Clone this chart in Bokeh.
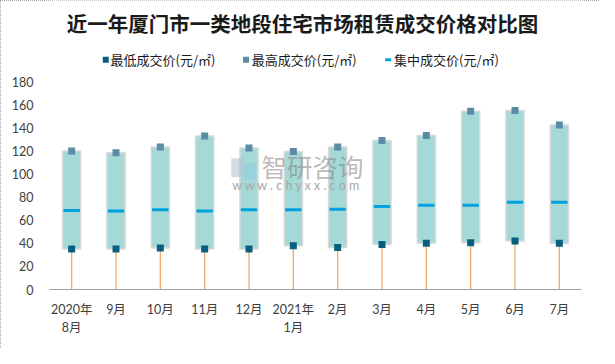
from bokeh.plotting import figure
from bokeh.models import Range1d, FixedTicker, Label, BoxAnnotation
from bokeh.core.properties import value
from bokeh.embed import file_html
from bokeh.resources import INLINE

# ---- data ----
months = ["2020年\n8月", "9月", "10月", "11月", "12月", "2021年\n1月",
          "2月", "3月", "4月", "5月", "6月", "7月"]
low_price = [35, 35, 36, 35, 35, 38, 36.5, 39, 40, 40.5, 42, 40]
high_price = [120, 118.5, 123.5, 133, 122.5, 119.5, 123.5, 129, 133.5, 154.5, 155, 142.5]
mid_price = [68.5, 68, 69, 68, 69, 69, 69.5, 72, 73, 73, 75.5, 75.5]
y_ticks = [0, 20, 40, 60, 80, 100, 120, 140, 160, 180]

title_text = "近一年厦门市一类地段住宅市场租赁成交价格对比图"
legend_low = "最低成交价(元/㎡)"
legend_high = "最高成交价(元/㎡)"
legend_mid = "集中成交价(元/㎡)"
watermark = "智研咨询"
watermark_url = "w  w  w  .  c  h  y  x  x  .  c  o  m"

idx = list(range(len(months)))

C_BOX = "#A5D9D7"
C_BOX_LINE = "#D9D9D9"
C_LOW = "#075F80"
C_HIGH = "#5B8CA6"
C_MID = "#00A2DE"
C_STEM = "#F0A868"

# ---- layout (canvas 599x348, proportional to the 615x364 original) ----
W, H = 599, 348
SX, SY = W / 615, H / 364
FL, FR, FB = 49, 18, 59          # frame borders left/right/bottom
FRAME_BOTTOM = H - FB            # canvas y of the frame bottom (value 0)
FRAME_W = W - FL - FR
Y_TOP_PX = 85 * SY               # canvas y where value 180 sits
y_top = 180 * FRAME_BOTTOM / (FRAME_BOTTOM - Y_TOP_PX)


def fx(x):
    return x * SX - FL


def fy(y):
    return FRAME_BOTTOM - y * SY


p = figure(width=W, height=H, output_backend="svg", toolbar_location=None,
           x_range=Range1d(-0.5, 11.5), y_range=Range1d(0, y_top),
           min_border_left=FL, min_border_right=FR, min_border_top=0,
           min_border_bottom=FB, background_fill_color="white",
           border_fill_color="white")
p.outline_line_color = None
p.grid.grid_line_color = None
p.styles = {"outline": "1px dotted #8C8C8C", "outline-offset": "-1px"}

# stems from 0 to the low price
p.segment(x0=idx, y0=[0] * len(idx), x1=idx, y1=low_price,
          line_color=C_STEM, line_width=1.3)
# boxes
p.vbar(x=idx, bottom=low_price, top=high_price, width=0.41,
       fill_color=C_BOX, line_color=C_BOX_LINE, line_width=1.5)
# mid line
p.rect(x=idx, y=mid_price, width=0.37, height=3, height_units="screen",
       fill_color=C_MID, line_color=None)
# markers
p.scatter(x=idx, y=high_price, marker="square", size=7, fill_color=C_HIGH, line_color=None)
p.scatter(x=idx, y=low_price, marker="square", size=7, fill_color=C_LOW, line_color=None)

# axes
xa = p.xaxis[0]
xa.ticker = FixedTicker(ticks=idx)
xa.major_label_overrides = {i: m for i, m in zip(idx, months)}
xa.axis_line_color = "#A0A0A0"
xa.axis_line_width = 1
xa.major_tick_line_color = None
xa.minor_tick_line_color = None
xa.major_tick_out = 0
xa.major_label_standoff = 12
xa.major_label_text_font = "Lato, 'Noto Sans CJK SC'"
xa.major_label_text_font_size = "12.5px"
xa.major_label_text_color = "#404040"

ya = p.yaxis[0]
ya.ticker = FixedTicker(ticks=y_ticks)
ya.axis_line_color = None
ya.major_tick_line_color = None
ya.minor_tick_line_color = None
ya.major_tick_out = 0
ya.major_label_standoff = 16
ya.major_label_text_font = "Lato"
ya.major_label_text_font_size = "12.5px"
ya.major_label_text_color = "#404040"

# title
p.add_layout(Label(x=fx(310), y=fy(24), x_units="screen", y_units="screen", text=title_text,
                   text_align="center", text_baseline="middle", text_font="Noto Sans CJK SC",
                   text_font_size="20.5px", text_font_style="bold", text_color="#1a1a1a"))

# legend (manual)
ly = fy(62)
items = [(105, 6, 6, C_LOW, 113, legend_low),
         (249, 6, 6, C_HIGH, 258, legend_high),
         (395, 6, 3, C_MID, 404, legend_mid)]
for left, w, h, col, tx, txt in items:
    p.add_layout(BoxAnnotation(left=fx(left), right=fx(left) + w, bottom=ly - h / 2, top=ly + h / 2,
                               left_units="screen", right_units="screen",
                               bottom_units="screen", top_units="screen",
                               fill_color=col, fill_alpha=1, line_color=None, line_alpha=0))
    p.add_layout(Label(x=fx(tx), y=ly, x_units="screen", y_units="screen", text=txt,
                       text_align="left", text_baseline="middle", text_font="Noto Sans CJK SC",
                       text_font_size="13px", text_color="#1a1a1a"))

# watermark
for (l, r, b, t, col, a) in [(237, 249, 165, 185, "#AFBDD2", 0.55),
                             (250, 262, 170, 187, "#8CC8E4", 0.45)]:
    p.add_layout(BoxAnnotation(left=fx(l), right=fx(r), bottom=fy(t), top=fy(b),
                               left_units="screen", right_units="screen",
                               bottom_units="screen", top_units="screen",
                               fill_color=col, fill_alpha=a, line_color=None, line_alpha=0))
wm_x = fx(268) / FRAME_W * 12 - 0.5
wm_y = fy(173) / FRAME_BOTTOM * y_top
p.text(x=[wm_x], y=[wm_y], text=[watermark], text_align="left", text_baseline="middle",
       text_font=value("Noto Sans CJK SC"), text_font_size="25.5px", text_color="#808080",
       text_alpha=0.55)
p.add_layout(Label(x=fx(238), y=fy(194), x_units="screen", y_units="screen",
                   text=watermark_url,
                   text_align="left", text_baseline="middle", text_font="Lato",
                   text_font_size="12.5px", text_color="#A6A6A6"))

open("out.html", "w").write(file_html(p, INLINE))
